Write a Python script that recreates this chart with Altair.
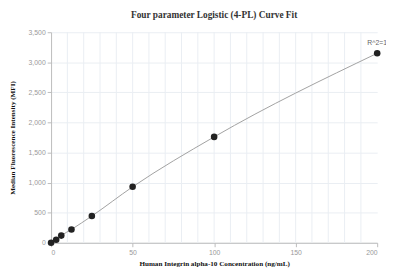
import altair as alt
import pandas as pd

conc = [0, 3.125, 6.25, 12.5, 25, 50, 100, 200]
mfi = [0, 49, 119, 222, 445, 930, 1760, 3150]
label_text = ["", "", "", "", "", "", "", "R^2=1"]
x_ticks = [0, 50, 100, 150, 200]
y_ticks = [0, 500, 1000, 1500, 2000, 2500, 3000, 3500]
x_grid = list(range(10, 200, 10))

df = pd.DataFrame({"x": conc, "y": mfi, "lab": label_text})

xscale = alt.Scale(domain=[0, 200], nice=False)
yscale = alt.Scale(domain=[0, 3500], nice=False)

x_axis = alt.Axis(title="Human Integrin alpha-10 Concentration (ng/mL)",
                  values=x_ticks, format="d", grid=False, labelOverlap=False)
y_axis = alt.Axis(title="Median Fluorescence Intensity (MFI)",
                  values=y_ticks, format=",.0f", grid=True, labelOverlap=False)

X = alt.X("x:Q", scale=xscale, axis=x_axis)
Y = alt.Y("y:Q", scale=yscale, axis=y_axis)

grid_df = pd.DataFrame({"x": x_grid})
vgrid = alt.Chart(grid_df).mark_rule(color="#eaeef3", strokeWidth=1).encode(x=X)

base = alt.Chart(df).encode(x=X, y=Y)
line = base.mark_line(color="#a0a0a0", strokeWidth=1, interpolate="monotone")
pts = base.mark_circle(color="#222222", size=45, opacity=1)
txt = base.mark_text(color="#666666", fontSize=7, font="Liberation Sans",
                     dy=-10, align="center").encode(text="lab:N")

chart = alt.layer(vgrid, line, pts, txt).properties(
    width=333, height=215,
    title=alt.TitleParams("Four parameter Logistic (4-PL) Curve Fit",
                          font="Liberation Serif", fontSize=9.5, fontWeight="bold",
                          color="#333333", anchor="middle", offset=9),
    autosize=alt.AutoSizeParams(type="none"),
    padding={"left": 44, "top": 22, "right": 9, "bottom": 23},
).configure_view(stroke=None).configure_axis(
    labelFont="Liberation Sans", labelFontSize=7, labelColor="#999999",
    titleFont="Liberation Serif", titleFontSize=7.3, titleFontWeight="bold",
    titleColor="#111111", domainColor="#bbbbbb", tickColor="#bbbbbb",
    gridColor="#eaeef3", tickSize=4, labelPadding=2,
).configure_axisX(titlePadding=4).configure_axisY(titlePadding=12)

chart.save("out.html", embed_options={"renderer": "svg", "actions": False})
